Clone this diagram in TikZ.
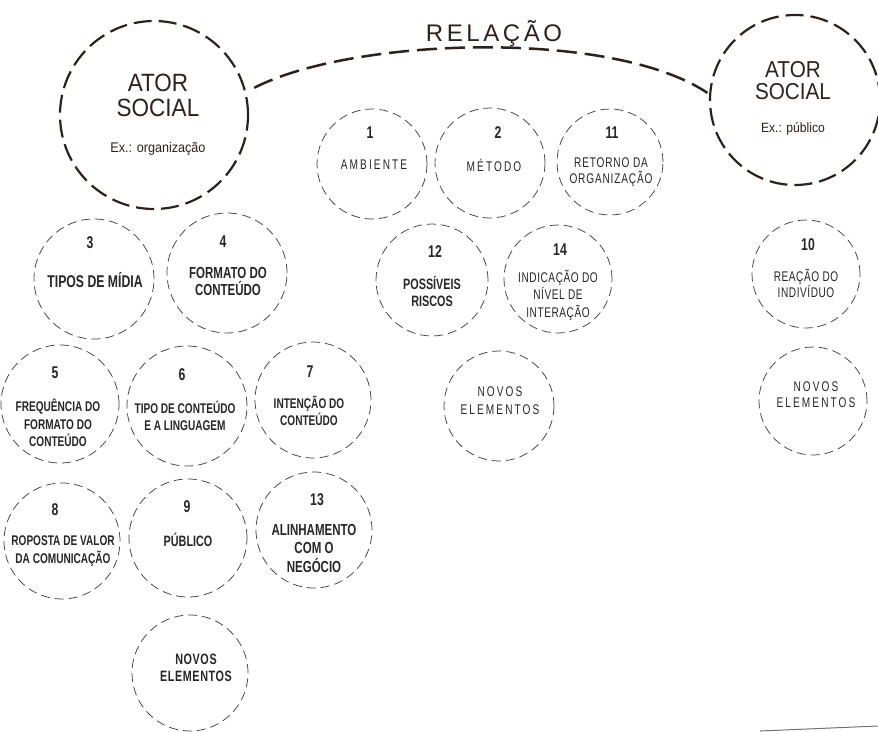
\documentclass[tikz,border=0pt]{standalone}
\usepackage{fontspec}
\setmainfont{Liberation Sans}
\newfontfamily\condfont{Liberation Sans}[FakeStretch=0.72]
\newfontfamily\litefont{Liberation Sans}[FakeStretch=0.72,LetterSpace=4]
\newfontfamily\widefont{Liberation Sans}[FakeStretch=0.72,LetterSpace=15]
\newfontfamily\bigfont{Liberation Sans}[FakeStretch=0.9]
\newfontfamily\relfont{Liberation Sans}[LetterSpace=15]
\usepackage{tikz}
\definecolor{ink}{HTML}{2D211B}
\definecolor{pen}{HTML}{404040}
\begin{document}
\begin{tikzpicture}[x=1pt,y=-1pt,
  actor/.style={circle,draw=ink,line width=2.2pt,dash pattern=on 18pt off 7pt,inner sep=0pt},
  item/.style={circle,draw=pen,line width=0.75pt,dash pattern=on 9pt off 5pt,inner sep=0pt,minimum size=110pt},
  num/.style={text=black!85,font=\condfont\bfseries\fontsize{17}{17}\selectfont},
  lbl/.style={text=black!85,align=center,font=\condfont\bfseries\fontsize{15}{17}\selectfont},
  lblsm/.style={lbl,font=\condfont\bfseries\fontsize{14}{17.5}\selectfont},
  lite/.style={text=black!85,align=center,font=\litefont\fontsize{14}{16}\selectfont},
  wide/.style={text=black!85,align=center,font=\widefont\fontsize{14}{17}\selectfont}]
\useasboundingbox (0,0) rectangle (878,731);
\node[actor,minimum size=188pt] (orga) at (154,115) {};
\node[text=ink,align=center,font=\bigfont\fontsize{25}{25}\selectfont] (torga) at (158,95) {ATOR\\SOCIAL};
\node[text=ink,anchor=base,font=\bigfont\fontsize{14}{14}\selectfont] (xorga) at (158,152) {Ex.: organização};
\node[actor,minimum size=170pt] (publ) at (795,100) {};
\node[text=ink,align=center,font=\bigfont\fontsize{23}{22}\selectfont] (tpubl) at (793,81) {ATOR\\SOCIAL};
\node[text=ink,anchor=base,font=\bigfont\fontsize{13.5}{13.5}\selectfont] (xpubl) at (793,132) {Ex.: público};
\node[text=ink,anchor=base,font=\relfont\fontsize{24}{24}\selectfont] (rel) at (494,41) {RELAÇÃO};
\draw[ink,line width=2.5pt,dash pattern=on 20pt off 8pt,shorten <=9pt,shorten >=2pt]
  (orga.14) .. controls (350,38) and (610,28) .. (publ.176);
\node[item] (c1) at (372,164) {};
\node[num] at (370,133) {1};
\node[wide] at (374,165) {AMBIENTE};
\node[item] (c2) at (490,163) {};
\node[num] at (498,133) {2};
\node[wide] at (494,165) {MÉTODO};
\node[item,minimum size=106pt] (c11) at (610,162) {};
\node[num] at (612,133) {11};
\node[lite,font=\litefont\addfontfeature{LetterSpace=6}\fontsize{14}{16}\selectfont] at (611,172) {RETORNO DA\\ORGANIZAÇÃO};
\node[item,minimum size=120pt] (c3) at (94,279) {};
\node[num] at (90,243) {3};
\node[lbl,font=\condfont\bfseries\fontsize{17}{17}\selectfont] at (95,280) {TIPOS DE MÍDIA};
\node[item,minimum size=120pt] (c4) at (227,273) {};
\node[num] at (223,242) {4};
\node[lbl,font=\condfont\bfseries\fontsize{16}{17}\selectfont] at (228,281) {FORMATO DO\\CONTEÚDO};
\node[item,minimum size=118pt] (c5) at (60,404) {};
\node[num] at (55,373) {5};
\node[lblsm] at (58,423) {FREQUÊNCIA DO\\FORMATO DO\\CONTEÚDO};
\node[item,minimum size=120pt] (c6) at (187,406) {};
\node[num] at (182,375) {6};
\node[lblsm] at (185,416) {TIPO DE CONTEÚDO\\E A LINGUAGEM};
\node[item,minimum size=116pt] (c7) at (313,400) {};
\node[num] at (310,372) {7};
\node[lblsm] at (309,411) {INTENÇÃO DO\\CONTEÚDO};
\node[item,minimum size=116pt] (c8) at (62,541) {};
\node[num] at (55,510) {8};
\node[lblsm] at (63,551) {ROPOSTA DE VALOR\\DA COMUNICAÇÃO};
\node[item,minimum size=118pt] (c9) at (188,538) {};
\node[num] at (187,507) {9};
\node[lbl] at (188,540) {PÚBLICO};
\node[item,minimum size=116pt] (c13) at (314,530) {};
\node[num] at (317,500) {13};
\node[lbl,font=\condfont\bfseries\fontsize{16}{18.5}\selectfont] at (314,548) {ALINHAMENTO\\COM O\\NEGÓCIO};
\node[item,minimum size=116pt] (c15) at (190,673) {};
\node[lbl,font=\litefont\bfseries\fontsize{15}{17}\selectfont] at (196,668) {NOVOS\\ELEMENTOS};
\node[item,minimum size=112pt] (c12) at (432,280) {};
\node[num] at (435,252) {12};
\node[lbl] at (432,291) {POSSÍVEIS\\RISCOS};
\node[item,minimum size=108pt] (c14) at (558,279) {};
\node[num] at (560,250) {14};
\node[lite,font=\litefont\fontsize{14}{17.5}\selectfont] at (558,295) {INDICAÇÃO DO\\NÍVEL DE\\INTERAÇÃO};
\node[item] (c16) at (499,406) {};
\node[wide,font=\widefont\fontsize{14}{18}\selectfont] at (500,401) {NOVOS\\ELEMENTOS};
\node[item,minimum size=108pt] (c10) at (806,274) {};
\node[num] at (808,245) {10};
\node[lite] at (806,283) {REAÇÃO DO\\INDIVÍDUO};
\node[item,minimum size=108pt] (c17) at (813,401) {};
\node[wide,font=\widefont\fontsize{14}{16}\selectfont] at (816,395) {NOVOS\\ELEMENTOS};
\draw[black!55,line width=1pt] (760,731) -- (878,726);
\end{tikzpicture}
\end{document}
